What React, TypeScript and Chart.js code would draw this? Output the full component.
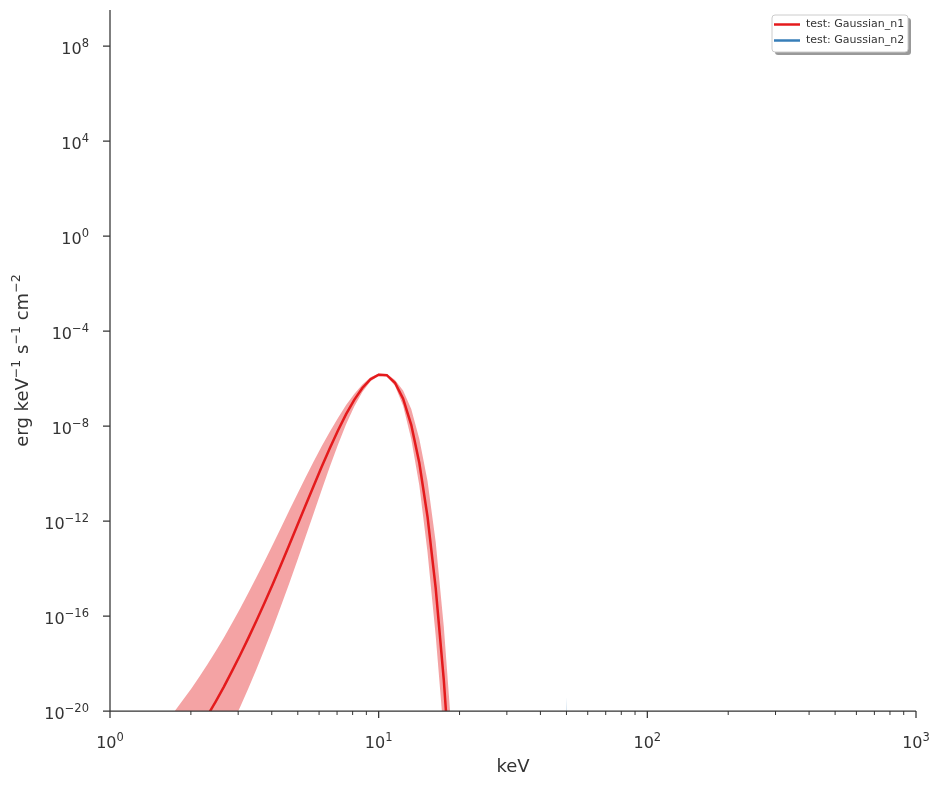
import React, { useEffect, useRef } from "react";
import { Chart, registerables } from "chart.js";

Chart.register(...registerables);

// Energy grid (keV)
const energyKeV = [1.520, 1.630, 1.748, 1.874, 2.009, 2.154, 2.310, 2.477, 2.656, 2.848, 3.054, 3.275, 3.511, 3.765, 4.037, 4.329, 4.642, 4.977, 5.337, 5.722, 6.136, 6.579, 7.055, 7.565, 8.111, 8.697, 9.326, 10.0, 10.72, 11.50, 12.33, 13.22, 14.17, 15.20, 16.30, 17.48, 18.74, 20.09];

// Gaussian_n1: log10 of flux, and of the upper/lower edges of its band
const n1Log10Flux = [-23.17, -22.73, -22.28, -21.79, -21.29, -20.75, -20.18, -19.59, -18.97, -18.31, -17.63, -16.92, -16.19, -15.43, -14.65, -13.84, -13.02, -12.19, -11.36, -10.54, -9.72, -8.94, -8.19, -7.50, -6.90, -6.40, -6.03, -5.84, -5.86, -6.18, -6.85, -7.95, -9.56, -11.82, -14.82, -18.71, -23.63, -29.78];
const n1Log10Upper = [-20.82, -20.40, -19.98, -19.52, -19.05, -18.55, -18.02, -17.47, -16.90, -16.29, -15.67, -15.02, -14.36, -13.68, -12.99, -12.28, -11.57, -10.87, -10.18, -9.51, -8.85, -8.24, -7.66, -7.12, -6.65, -6.25, -5.95, -5.79, -5.81, -6.06, -6.50, -7.28, -8.55, -10.32, -12.87, -16.46, -21.08, -26.88];
const n1Log10Lower = [-25.77, -25.31, -24.83, -24.31, -23.78, -23.20, -22.59, -21.95, -21.28, -20.56, -19.82, -19.04, -18.23, -17.38, -16.50, -15.58, -14.64, -13.67, -12.68, -11.69, -10.69, -9.72, -8.79, -7.93, -7.18, -6.57, -6.12, -5.89, -5.91, -6.30, -7.15, -8.55, -10.51, -13.32, -16.82, -21.01, -26.23, -32.68];

// Gaussian_n2: a very narrow line near 50 keV, almost entirely below the axis range
const n2EnergyKeV = [49.6, 50.0, 50.4];
const n2Flux = [1e-26, 5e-21, 1e-26];
const n2Upper = [3e-22, 4e-20, 3e-22];
const n2Lower = [1e-28, 1e-23, 1e-28];

const seriesLabels = ["test: Gaussian_n1", "test: Gaussian_n2"];

// Axis ticks
const xMajorTicks = [1, 10, 100, 1000];
const xMajorExps = [0, 1, 2, 3];
const xMinorTicks = [2, 3, 4, 5, 6, 7, 8, 9, 20, 30, 40, 50, 60, 70, 80, 90, 200, 300, 400, 500, 600, 700, 800, 900];
const yMajorExps = [-20, -16, -12, -8, -4, 0, 4, 8];

const RED = "#e41a1c";
const BLUE = "#377eb8";
const RED_BAND = "rgba(228,26,28,0.4)";
const BLUE_BAND = "rgba(55,126,184,0.4)";
const INK = "#333333";
const FONT = '"DejaVu Sans", sans-serif';

function drawPow(ctx: CanvasRenderingContext2D, exp: number, x: number, y: number, align: "right" | "center") {
  const base = "10";
  const sup = exp < 0 ? "\u2212" + Math.abs(exp) : String(exp);
  ctx.font = `16px ${FONT}`;
  const wb = ctx.measureText(base).width;
  ctx.font = `11.5px ${FONT}`;
  const ws = ctx.measureText(sup).width;
  const total = wb + ws;
  const x0 = align === "right" ? x - total : x - total / 2;
  ctx.textAlign = "left";
  ctx.textBaseline = "alphabetic";
  ctx.font = `16px ${FONT}`;
  ctx.fillText(base, x0, y);
  ctx.font = `11.5px ${FONT}`;
  ctx.fillText(sup, x0 + wb, y - 7.5);
}

function drawRich(ctx: CanvasRenderingContext2D, parts: [string, boolean][], cx: number, y: number, size: number) {
  const supSize = size * 0.7;
  let total = 0;
  const widths: number[] = [];
  for (const [t, s] of parts) {
    ctx.font = `${s ? supSize : size}px ${FONT}`;
    const w = ctx.measureText(t).width;
    widths.push(w);
    total += w;
  }
  let x = cx - total / 2;
  ctx.textAlign = "left";
  ctx.textBaseline = "alphabetic";
  parts.forEach(([t, s], i) => {
    ctx.font = `${s ? supSize : size}px ${FONT}`;
    ctx.fillText(t, x, s ? y - size * 0.42 : y);
    x += widths[i];
  });
}

const axesPlugin = {
  id: "axesDecor",
  afterDraw(chart: any) {
    const ctx: CanvasRenderingContext2D = chart.ctx;
    const xs = chart.scales.x;
    const ys = chart.scales.y;
    const { left, right, top, bottom } = chart.chartArea;
    ctx.save();
    ctx.strokeStyle = INK;
    ctx.lineCap = "butt";
    // spines
    ctx.lineWidth = 1.25;
    ctx.beginPath();
    ctx.moveTo(left, top);
    ctx.lineTo(left, bottom);
    ctx.moveTo(left, bottom);
    ctx.lineTo(right, bottom);
    ctx.stroke();
    // x major ticks
    ctx.beginPath();
    for (const v of xMajorTicks) {
      const px = xs.getPixelForValue(v);
      ctx.moveTo(px, bottom);
      ctx.lineTo(px, bottom + 7);
    }
    ctx.stroke();
    // x minor ticks
    ctx.lineWidth = 1;
    ctx.beginPath();
    for (const v of xMinorTicks) {
      const px = xs.getPixelForValue(v);
      ctx.moveTo(px, bottom);
      ctx.lineTo(px, bottom + 4);
    }
    ctx.stroke();
    // y major ticks
    ctx.lineWidth = 1.25;
    ctx.beginPath();
    for (const e of yMajorExps) {
      const py = ys.getPixelForValue(Math.pow(10, e));
      ctx.moveTo(left - 7, py);
      ctx.lineTo(left, py);
    }
    ctx.stroke();
    // tick labels
    ctx.fillStyle = INK;
    for (const e of yMajorExps) {
      const py = ys.getPixelForValue(Math.pow(10, e));
      drawPow(ctx, e, left - 21, py + 8, "right");
    }
    xMajorTicks.forEach((v, i) => {
      const px = xs.getPixelForValue(v);
      drawPow(ctx, xMajorExps[i], px, bottom + 37, "center");
    });
    // axis titles
    ctx.font = `18px ${FONT}`;
    ctx.textAlign = "center";
    ctx.textBaseline = "alphabetic";
    ctx.fillText("keV", (left + right) / 2, bottom + 61);
    ctx.save();
    ctx.translate(28, (top + bottom) / 2);
    ctx.rotate(-Math.PI / 2);
    drawRich(
      ctx,
      [
        ["erg keV", false],
        ["\u22121", true],
        [" s", false],
        ["\u22121", true],
        [" cm", false],
        ["\u22122", true],
      ],
      0,
      0,
      18
    );
    ctx.restore();
    ctx.restore();
  },
};

function roundRect(ctx: CanvasRenderingContext2D, x: number, y: number, w: number, h: number, r: number) {
  ctx.beginPath();
  ctx.moveTo(x + r, y);
  ctx.lineTo(x + w - r, y);
  ctx.arcTo(x + w, y, x + w, y + r, r);
  ctx.lineTo(x + w, y + h - r);
  ctx.arcTo(x + w, y + h, x + w - r, y + h, r);
  ctx.lineTo(x + r, y + h);
  ctx.arcTo(x, y + h, x, y + h - r, r);
  ctx.lineTo(x, y + r);
  ctx.arcTo(x, y, x + r, y, r);
  ctx.closePath();
}

const legendPlugin = {
  id: "customLegend",
  afterDraw(chart: any) {
    const ctx: CanvasRenderingContext2D = chart.ctx;
    const { right, top } = chart.chartArea;
    const w = 136;
    const h = 37;
    const x = right - 8 - w;
    const y = top + 5;
    ctx.save();
    ctx.fillStyle = "rgba(0,0,0,0.4)";
    roundRect(ctx, x + 3, y + 3, w, h, 3);
    ctx.fill();
    ctx.fillStyle = "#ffffff";
    roundRect(ctx, x, y, w, h, 3);
    ctx.fill();
    ctx.strokeStyle = "#cccccc";
    ctx.lineWidth = 1;
    ctx.stroke();
    const colors = [RED, BLUE];
    seriesLabels.forEach((label, i) => {
      const cy = y + 9.5 + i * 16;
      ctx.strokeStyle = colors[i];
      ctx.lineWidth = 2.5;
      ctx.beginPath();
      ctx.moveTo(x + 2, cy);
      ctx.lineTo(x + 28, cy);
      ctx.stroke();
      ctx.fillStyle = INK;
      ctx.font = `11px ${FONT}`;
      ctx.textAlign = "left";
      ctx.textBaseline = "middle";
      ctx.fillText(label, x + 34, cy);
    });
    ctx.restore();
  },
};

export default function App() {
  const ref = useRef<HTMLCanvasElement>(null);
  useEffect(() => {
    const canvas = ref.current;
    if (!canvas) return;
    const toPts = (xs: number[], ys: number[]) => xs.map((x, i) => ({ x, y: ys[i] }));
    const fromLog = (a: number[]) => a.map((v) => Math.pow(10, v));
    const common = { pointRadius: 0, tension: 0, clip: 0 as any };
    const chart = new Chart(canvas, {
      type: "line",
      data: {
        datasets: [
          { ...common, label: seriesLabels[0], data: toPts(energyKeV, fromLog(n1Log10Flux)), borderColor: RED, borderWidth: 2.5, fill: false },
          { ...common, label: seriesLabels[1], data: toPts(n2EnergyKeV, n2Flux), borderColor: BLUE, borderWidth: 2.5, fill: false },
          { ...common, label: "n1 upper", data: toPts(energyKeV, fromLog(n1Log10Upper)), borderColor: "rgba(0,0,0,0)", borderWidth: 0, backgroundColor: RED_BAND, fill: "+1" },
          { ...common, label: "n1 lower", data: toPts(energyKeV, fromLog(n1Log10Lower)), borderColor: "rgba(0,0,0,0)", borderWidth: 0, fill: false },
          { ...common, label: "n2 upper", data: toPts(n2EnergyKeV, n2Upper), borderColor: "rgba(0,0,0,0)", borderWidth: 0, backgroundColor: BLUE_BAND, fill: "+1" },
          { ...common, label: "n2 lower", data: toPts(n2EnergyKeV, n2Lower), borderColor: "rgba(0,0,0,0)", borderWidth: 0, fill: false },
        ] as any,
      },
      options: {
        animation: false,
        responsive: false,
        devicePixelRatio: 1,
        events: [],
        layout: { padding: { left: 110, right: 24, top: 10, bottom: 75 } },
        scales: {
          x: { type: "logarithmic", min: 1, max: 1000, display: false },
          y: { type: "logarithmic", min: 1e-20, max: Math.pow(10, 9.516), display: false },
        },
        plugins: { legend: { display: false }, tooltip: { enabled: false }, title: { display: false } },
      } as any,
      plugins: [legendPlugin, axesPlugin],
    });
    return () => chart.destroy();
  }, []);
  return (
    <div style={{ position: "fixed", left: 0, top: 0, width: 940, height: 786, background: "#ffffff" }}>
      <canvas ref={ref} width={940} height={786} style={{ display: "block", width: 940, height: 786 }} />
    </div>
  );
}
